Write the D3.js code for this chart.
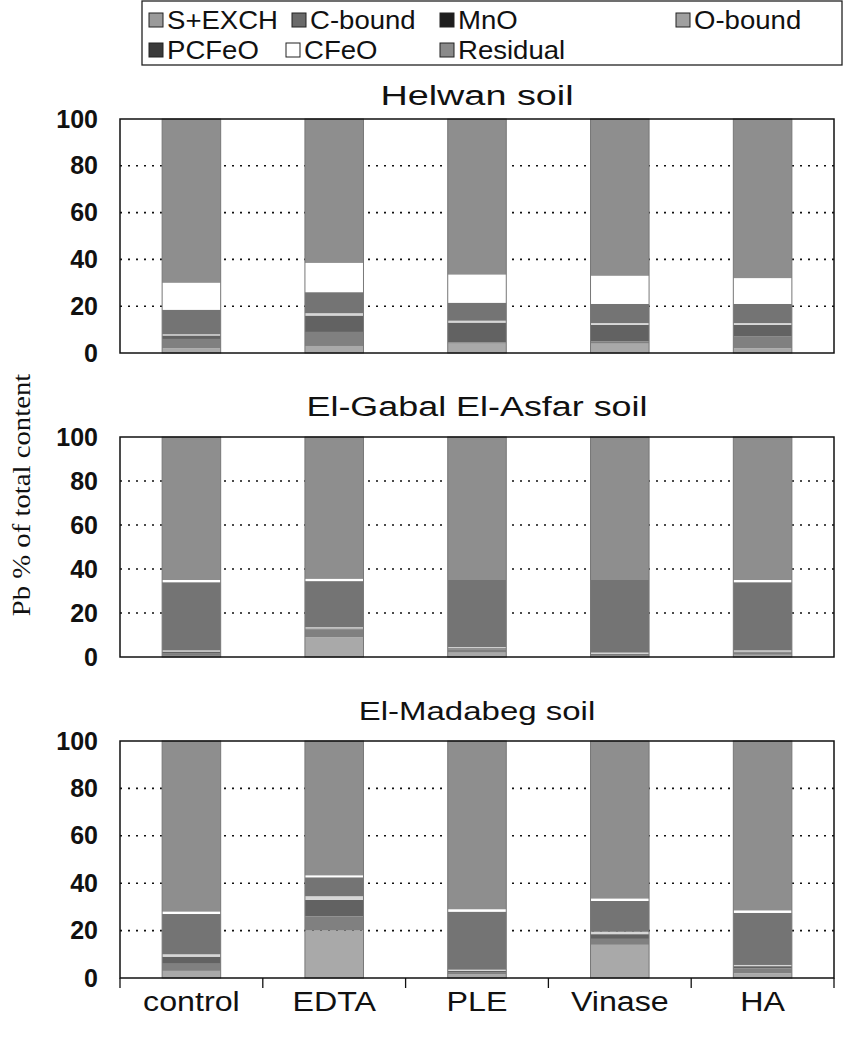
<!DOCTYPE html>
<html>
<head>
    <title>Pb fractions by soil and treatment</title>
    <script src="https://d3js.org/d3.v7.min.js"></script>
    <style>
        body { margin: 0; background: #fff; }
        text { font-family: "Liberation Sans", Arial, sans-serif; fill: #111; }
    </style>
</head>
<body>
    <div id="chart"></div>

    <script>
        // categories, series and tick labels
        var categories = ["control", "EDTA", "PLE", "Vinase", "HA"];
        var fractions = ["S+EXCH", "C-bound", "MnO", "O-bound", "PCFeO", "CFeO", "Residual"];
        var soils = ["Helwan soil", "El-Gabal El-Asfar soil", "El-Madabeg soil"];
        var yTicks = [0, 20, 40, 60, 80, 100];

        // one row per treatment, columns in the order of fractions (bottom to top)
        var helwan = [
            [2, 4, 1.5, 0.5, 10.5, 11.5, 70],
            [3, 6, 7, 1, 9, 12.5, 61.5],
            [4, 0.5, 8.5, 0.8, 7.7, 12, 66.5],
            [4, 1, 7, 0.8, 8.2, 12, 67],
            [2, 5, 5, 0.8, 8.2, 11, 68]
        ];
        var gabal = [
            [0.5, 1, 1, 0.5, 31, 1, 65],
            [9, 3.5, 0.5, 0.5, 21, 1, 64.5],
            [2, 1.5, 0.5, 0.5, 30.5, 0, 65],
            [0.5, 0.5, 0.5, 0.5, 33, 0, 65],
            [1, 1, 0.5, 0.5, 31, 1, 65]
        ];
        var madabeg = [
            [3, 3, 3, 1, 17, 1, 72],
            [20, 6, 7, 1.5, 8, 0.8, 56.7],
            [1.5, 1, 0.5, 0.5, 24.5, 1, 71],
            [14, 2.5, 2, 1, 13, 1, 66.5],
            [2, 2, 1, 0.5, 22, 1, 71.5]
        ];
        var soilData = [helwan, gabal, madabeg];

        var colors = ["#a9a9a9", "#808080", "#626262", "#d6d6d6", "#747474", "#ffffff", "#8e8e8e"];
        var swatchColors = ["#9a9a9a", "#6a6a6a", "#1e1e1e", "#a0a0a0", "#3a3a3a", "#ffffff", "#8a8a8a"];

        var W = 845, H = 1039;
        var left = 120, right = 834;
        // title sizes differ a little from panel to panel in the scan
        var panels = [
            {top: 119, bottom: 353, titleY: 105, titleSize: 27, titleScale: 1.4},
            {top: 437, bottom: 657, titleY: 416, titleSize: 27, titleScale: 1.33},
            {top: 741, bottom: 978, titleY: 720, titleSize: 25, titleScale: 1.32}
        ];

        var svg = d3.select("#chart")
            .append("svg")
            .attr("width", W)
            .attr("height", H);

        var x = d3.scaleBand()
            .domain(categories)
            .range([left, right])
            .padding(0);
        var barW = x.bandwidth() * 0.41;

        var stack = d3.stack().keys(d3.range(fractions.length));

        panels.forEach(function(p, i) {
            var y = d3.scaleLinear().domain([0, 100]).range([p.bottom, p.top]);
            var g = svg.append("g");

            // panel title (the scanned text is wider than the font)
            g.append("g")
                .attr("transform", "translate(" + ((left + right) / 2) + "," + p.titleY + ") scale(" + p.titleScale + ",1)")
                .append("text")
                .style("text-anchor", "middle")
                .style("font-size", p.titleSize + "px")
                .text(soils[i]);

            // dotted gridlines
            g.selectAll(".grid")
                .data(yTicks.slice(1, -1))
                .enter()
                .append("line")
                .attr("x1", left).attr("x2", right)
                .attr("y1", function(d) { return y(d); })
                .attr("y2", function(d) { return y(d); })
                .attr("stroke", "#111")
                .attr("stroke-width", 1.6)
                .attr("stroke-dasharray", "2,6");

            // stacked bars
            var series = stack(soilData[i]);
            g.selectAll(".layer")
                .data(series)
                .enter()
                .append("g")
                .attr("fill", function(d) { return colors[d.key]; })
                .selectAll("rect")
                .data(function(d) { return d; })
                .enter()
                .append("rect")
                .attr("x", function(d, j) { return x(categories[j]) + (x.bandwidth() - barW) / 2; })
                .attr("y", function(d) { return y(d[1]); })
                .attr("width", barW)
                .attr("height", function(d) { return y(d[0]) - y(d[1]); });

            // faint outline of each whole bar
            g.selectAll(".outline")
                .data(series[series.length - 1])
                .enter()
                .append("rect")
                .attr("x", function(d, j) { return x(categories[j]) + (x.bandwidth() - barW) / 2; })
                .attr("y", function(d) { return y(d[1]); })
                .attr("width", barW)
                .attr("height", function(d) { return y(0) - y(d[1]); })
                .attr("fill", "none")
                .attr("stroke", "#777")
                .attr("stroke-width", 1);

            // frame
            g.append("rect")
                .attr("x", left).attr("y", p.top)
                .attr("width", right - left).attr("height", p.bottom - p.top)
                .attr("fill", "none")
                .attr("stroke", "#111")
                .attr("stroke-width", 1.5);

            // y axis labels
            var yAxis = d3.axisLeft(y).tickValues(yTicks).tickSize(0).tickPadding(18);
            var ya = g.append("g")
                .attr("transform", "translate(" + (left - 4) + ",0)")
                .call(yAxis);
            ya.select(".domain").remove();
            ya.selectAll("text")
                .style("font-family", "'Liberation Sans', Arial, sans-serif")
                .style("font-size", "25px")
                .style("font-weight", "bold")
                .attr("fill", "#111");

            // category axis on the bottom panel only
            if (i === 2) {
                g.selectAll(".cat")
                    .data(categories)
                    .enter()
                    .append("g")
                    .attr("transform", function(d) {
                        return "translate(" + (x(d) + x.bandwidth() / 2) + "," + (p.bottom + 33) + ") scale(1.15,1)";
                    })
                    .append("text")
                    .style("text-anchor", "middle")
                    .style("font-size", "28px")
                    .text(function(d) { return d; });
                g.selectAll(".sep")
                    .data(categories.concat([null]))
                    .enter()
                    .append("line")
                    .attr("x1", function(d, j) { return left + j * x.bandwidth(); })
                    .attr("x2", function(d, j) { return left + j * x.bandwidth(); })
                    .attr("y1", p.bottom)
                    .attr("y2", p.bottom + 10)
                    .attr("stroke", "#111")
                    .attr("stroke-width", 1.3);
            }
        });

        // y axis title, stretched along its baseline like the other texts
        svg.append("g")
            .attr("transform", "translate(30,495) rotate(-90) scale(1.15,1)")
            .append("text")
            .style("text-anchor", "middle")
            .style("font-family", "'Liberation Serif', 'Times New Roman', serif")
            .style("font-size", "25px")
            .text("Pb % of total content");

        // legend
        var legend = svg.append("g");
        legend.append("rect")
            .attr("x", 142).attr("y", 1)
            .attr("width", 700).attr("height", 64)
            .attr("fill", "none")
            .attr("stroke", "#222")
            .attr("stroke-width", 1.3);

        var legendPos = [
            [149, 20], [292, 20], [440, 20], [676, 20],
            [149, 50], [286, 50], [440, 50]
        ];
        var items = legend.selectAll(".item")
            .data(fractions)
            .enter()
            .append("g")
            .attr("transform", function(d, i) { return "translate(" + legendPos[i][0] + "," + legendPos[i][1] + ")"; });
        items.append("rect")
            .attr("x", 0).attr("y", -7)
            .attr("width", 14).attr("height", 14)
            .attr("fill", function(d, i) { return swatchColors[i]; })
            .attr("stroke", "#222")
            .attr("stroke-width", 1);
        items.append("g")
            .attr("transform", "translate(18,0) scale(1.06,1)")
            .append("text")
            .attr("dy", "0.36em")
            .style("font-size", "26px")
            .text(function(d) { return d; });
    </script>
</body>
</html>
